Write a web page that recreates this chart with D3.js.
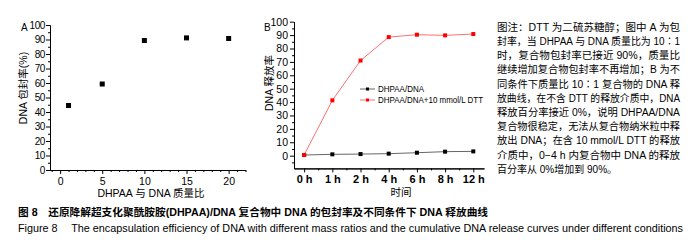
<!DOCTYPE html>
<html>
<head>
<meta charset="utf-8">
<script src="https://cdn.jsdelivr.net/npm/d3@7"></script>
<style>
  body { margin: 0; background: #fff; }
  svg { display: block; }
</style>
</head>
<body>
<script>
// panel A data: encapsulation vs mass ratio
const ratioA = [1, 5, 10, 15, 20];
const encapA = [44.5, 59.3, 89.3, 91.1, 90.7];
const ticksA = [0, 5, 10, 15, 20];

// panel B data: release over time
const timeLabels = ["0 h", "1 h", "2 h", "4 h", "6 h", "8 h", "12 h"];
const releasePlain = [0.5, 1.0, 1.2, 1.5, 2.2, 3.0, 3.2];
const releaseDTT = [0.5, 41.3, 71.0, 88.5, 90.3, 89.8, 90.8];
const seriesNames = ["DHPAA/DNA", "DHPAA/DNA+10 mmol/L DTT"];

const noteLines = [
  "图注：DTT 为二硫苏糖醇；图中 A 为包",
  "封率，当 DHPAA 与 DNA 质量比为 10∶1",
  "时，复合物包封率已接近 90%，质量比",
  "继续增加复合物包封率不再增加；B 为不",
  "同条件下质量比 10∶1 复合物的 DNA 释",
  "放曲线，在不含 DTT 的释放介质中，DNA",
  "释放百分率接近 0%，说明 DHPAA/DNA",
  "复合物很稳定，无法从复合物纳米粒中释",
  "放出 DNA；在含 10 mmol/L DTT 的释放",
  "介质中，0−4 h 内复合物中 DNA 的释放",
  "百分率从 0%增加到 90%。"
];
const captionCn = "图 8\u2003还原降解超支化聚酰胺胺(DHPAA)/DNA 复合物中 DNA 的包封率及不同条件下 DNA 释放曲线";
const captionEn = "Figure 8\u2003 The encapsulation efficiency of DNA with different mass ratios and the cumulative DNA release curves under different conditions";

const W = 690, H = 246;
const FONT = "'Liberation Sans', Arial, 'Noto Sans CJK SC', sans-serif";

const svg = d3.create("svg")
  .attr("width", W)
  .attr("height", H)
  .attr("viewBox", [0, 0, W, H])
  .style("font-family", FONT);

function styleAxis(g, fs) {
  g.select(".domain").attr("stroke", "#000").attr("stroke-width", 1);
  g.selectAll(".tick line").attr("stroke", "#000");
  g.selectAll(".tick text").attr("fill", "#000").style("font-size", fs + "px").style("font-family", FONT);
}

// ---------- panel A ----------
const xA = d3.scaleLinear().domain([-1.2, 22]).range([50, 245.5]);
const yA = d3.scaleLinear().domain([0, 100]).range([170, 25]);

svg.append("g")
  .attr("transform", "translate(0,170)")
  .call(d3.axisBottom(xA).tickValues(d3.range(-1, 23).filter(d => d % 5 !== 0)).tickSize(2).tickSizeOuter(0).tickFormat(""))
  .call(g => styleAxis(g, 10));
svg.append("g")
  .attr("transform", "translate(0,170)")
  .call(d3.axisBottom(xA).tickValues(ticksA).tickSize(4).tickSizeOuter(0).tickPadding(4))
  .call(g => styleAxis(g, 10.5));

svg.append("g")
  .attr("transform", "translate(50,0)")
  .call(d3.axisLeft(yA).tickValues(d3.range(5, 100, 10)).tickSize(2).tickSizeOuter(0).tickFormat(""))
  .call(g => styleAxis(g, 10));
svg.append("g")
  .attr("transform", "translate(50,0)")
  .call(d3.axisLeft(yA).tickValues(d3.range(0, 101, 10)).tickSize(4).tickSizeOuter(0).tickPadding(1))
  .call(g => styleAxis(g, 10))
  .call(g => g.selectAll(".tick text").style("letter-spacing", "-0.4px"));

svg.append("g")
  .selectAll("rect")
  .data(ratioA.map((r, i) => [r, encapA[i]]))
  .join("rect")
  .attr("x", d => xA(d[0]) - 2.5)
  .attr("y", d => yA(d[1]) - 2.5)
  .attr("width", 5)
  .attr("height", 5)
  .attr("fill", "#000");

svg.append("text").attr("x", 21).attr("y", 31).text("A")
  .style("font-size", "10px");
svg.append("text")
  .attr("transform", "translate(27,88) rotate(-90)")
  .attr("text-anchor", "middle")
  .style("font-size", "10.5px")
  .text("DNA 包封率(%)");
svg.append("text")
  .attr("x", 151).attr("y", 197)
  .attr("text-anchor", "middle")
  .style("font-size", "10.5px")
  .text("DHPAA 与 DNA 质量比");

// ---------- panel B ----------
const xB = d3.scaleLinear().domain([-0.36, 6.38]).range([294, 484]);
const yB = d3.scaleLinear().domain([-9.5, 100]).range([168.4, 21.7]);

svg.append("g")
  .attr("transform", "translate(0,168.4)")
  .call(d3.axisBottom(xB).tickValues(d3.range(0.5, 6, 1)).tickSize(2).tickSizeOuter(0).tickFormat(""))
  .call(g => styleAxis(g, 10));
svg.append("g")
  .attr("transform", "translate(0,168.4)")
  .call(d3.axisBottom(xB).tickValues(d3.range(0, 7)).tickFormat(i => timeLabels[i]).tickSize(4).tickSizeOuter(0).tickPadding(3))
  .call(g => styleAxis(g, 11))
  .call(g => g.selectAll(".tick text").style("font-weight", "bold"));

svg.append("g")
  .attr("transform", "translate(294,0)")
  .call(d3.axisLeft(yB).tickValues(d3.range(-5, 100, 10)).tickSize(2).tickSizeOuter(0).tickFormat(""))
  .call(g => styleAxis(g, 10));
svg.append("g")
  .attr("transform", "translate(294,0)")
  .call(d3.axisLeft(yB).tickValues(d3.range(0, 101, 10)).tickSize(4).tickSizeOuter(0).tickPadding(2))
  .call(g => styleAxis(g, 10.5));

const seriesB = [
  { name: seriesNames[0], values: releasePlain, line: "#666", mark: "#000", w: 46 },
  { name: seriesNames[1], values: releaseDTT, line: "#ff7070", mark: "#ff0000", w: 105 }
];

const lineB = d3.line().x((d, i) => xB(i)).y(d => yB(d));

seriesB.forEach(s => {
  svg.append("path")
    .attr("d", lineB(s.values))
    .attr("fill", "none")
    .attr("stroke", s.line)
    .attr("stroke-width", 1);
  svg.append("g")
    .selectAll("rect")
    .data(s.values)
    .join("rect")
    .attr("x", (d, i) => xB(i) - 2)
    .attr("y", d => yB(d) - 2)
    .attr("width", 4)
    .attr("height", 4)
    .attr("fill", s.mark);
});

// legend
const leg = svg.append("g").attr("transform", "translate(360,89)");
seriesB.forEach((s, i) => {
  const row = leg.append("g").attr("transform", `translate(0,${i * 11})`);
  row.append("line").attr("x1", 0).attr("x2", 15).attr("stroke", s.line);
  row.append("rect").attr("x", 6).attr("y", -1.5).attr("width", 3).attr("height", 3).attr("fill", s.mark);
  row.append("text").attr("x", 18).attr("dy", "0.35em")
    .attr("textLength", s.w).attr("lengthAdjust", "spacingAndGlyphs")
    .style("font-size", "9px").text(s.name);
});

svg.append("text").attr("x", 264).attr("y", 31).text("B")
  .style("font-size", "10px");
svg.append("text")
  .attr("transform", "translate(273,83) rotate(-90)")
  .attr("text-anchor", "middle")
  .style("font-size", "10.5px")
  .text("DNA 释放率");
svg.append("text")
  .attr("x", 401).attr("y", 196)
  .attr("text-anchor", "middle")
  .style("font-size", "10.5px")
  .text("时间");

// ---------- note text ----------
svg.append("g")
  .selectAll("text")
  .data(noteLines)
  .join("text")
  .attr("x", 497)
  .attr("y", (d, i) => 27.3 + i * 14.2)
  .attr("dy", "0.35em")
  .style("font-size", "10px")
  .each(function (d, i) {
    if (i < noteLines.length - 1) {
      d3.select(this).attr("textLength", 183).attr("lengthAdjust", "spacingAndGlyphs");
    }
  })
  .text(d => d);

// ---------- caption ----------
svg.append("text")
  .attr("x", 18).attr("y", 212).attr("dy", "0.35em")
  .attr("textLength", 470).attr("lengthAdjust", "spacingAndGlyphs")
  .style("font-size", "10px").style("font-weight", "bold")
  .text(captionCn);
svg.append("text")
  .attr("x", 18).attr("y", 228).attr("dy", "0.35em")
  .attr("textLength", 665).attr("lengthAdjust", "spacingAndGlyphs")
  .style("font-size", "10.5px")
  .text(captionEn);

d3.select("body").append(() => svg.node());
</script>
</body>
</html>
